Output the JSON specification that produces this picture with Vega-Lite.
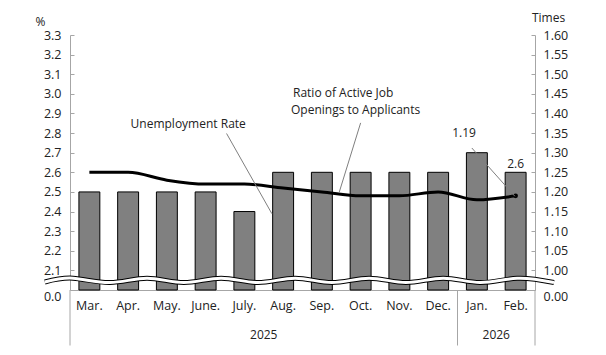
{
  "$schema": "https://vega.github.io/schema/vega-lite/v6.json",
  "width": 465,
  "height": 255,
  "autosize": {"type": "none"},
  "padding": {"left": 70, "top": 35, "right": 71, "bottom": 65},
  "config": {
    "view": {"stroke": null},
    "font": "Open Sans",
    "text": {"font": "Open Sans", "fontSize": 12, "color": "#222"},
    "axis": {"labelFont": "Open Sans", "titleFont": "Open Sans", "grid": false}
  },
  "datasets": {
    "monthly": [
      {"month": "Mar.", "rate": 2.5, "ratio": 1.25},
      {"month": "Apr.", "rate": 2.5, "ratio": 1.25},
      {"month": "May.", "rate": 2.5, "ratio": 1.23},
      {"month": "June.", "rate": 2.5, "ratio": 1.22},
      {"month": "July.", "rate": 2.4, "ratio": 1.22},
      {"month": "Aug.", "rate": 2.6, "ratio": 1.21},
      {"month": "Sep.", "rate": 2.6, "ratio": 1.20},
      {"month": "Oct.", "rate": 2.6, "ratio": 1.19},
      {"month": "Nov.", "rate": 2.6, "ratio": 1.19},
      {"month": "Dec.", "rate": 2.6, "ratio": 1.20},
      {"month": "Jan.", "rate": 2.7, "ratio": 1.18},
      {"month": "Feb.", "rate": 2.6, "ratio": 1.19}
    ],
    "wave": [
      {"x": -0.65, "y": 2.041},
      {"x": 0.08, "y": 2.060},
      {"x": 1.03, "y": 2.038},
      {"x": 1.99, "y": 2.060},
      {"x": 2.94, "y": 2.038},
      {"x": 3.90, "y": 2.060},
      {"x": 4.85, "y": 2.038},
      {"x": 5.81, "y": 2.060},
      {"x": 6.76, "y": 2.038},
      {"x": 7.72, "y": 2.060},
      {"x": 8.67, "y": 2.038},
      {"x": 9.63, "y": 2.060},
      {"x": 10.58, "y": 2.038},
      {"x": 11.54, "y": 2.060},
      {"x": 12.49, "y": 2.038}
    ],
    "notes": [
      {"x": 3.05, "y": 2.844, "text": "Unemployment Rate"},
      {"x": 7.05, "y": 3.002, "text": "Ratio of Active Job"},
      {"x": 7.37, "y": 2.918, "text": "Openings to Applicants"},
      {"x": 10.17, "y": 2.801, "text": "1.19"},
      {"x": 11.5, "y": 2.64, "text": "2.6"},
      {"x": 5.0, "y": 1.773, "text": "2025"},
      {"x": 11.0, "y": 1.773, "text": "2026"}
    ],
    "leaders": [
      {"x1": 4.04, "y1": 2.798, "x2": 5.21, "y2": 2.389},
      {"x1": 7.50, "y1": 2.852, "x2": 6.95, "y2": 2.500},
      {"x1": 10.37, "y1": 2.724, "x2": 11.48, "y2": 2.478}
    ],
    "dividers": [
      {"x": 0, "y1": 2.0, "y2": 1.717},
      {"x": 10, "y1": 2.0, "y2": 1.717},
      {"x": 12, "y1": 2.0, "y2": 1.717}
    ]
  },
  "layer": [
    {
      "data": {"name": "monthly"},
      "mark": {"type": "bar", "fill": "#808080", "stroke": "#000000", "strokeWidth": 1, "width": {"band": 0.54}},
      "encoding": {
        "x": {
          "field": "month", "type": "nominal", "sort": null,
          "scale": {"type": "band", "domain": ["Mar.", "Apr.", "May.", "June.", "July.", "Aug.", "Sep.", "Oct.", "Nov.", "Dec.", "Jan.", "Feb."], "paddingInner": 0, "paddingOuter": 0},
          "axis": {"title": null, "labelAngle": 0, "ticks": false, "domainColor": "#a6a6a6", "labelPadding": 9, "labelFontSize": 12.5, "labelColor": "#222"}
        },
        "y": {
          "field": "rate", "type": "quantitative",
          "scale": {"domain": [2.0, 3.3], "nice": false, "zero": false},
          "axis": {
            "orient": "left",
            "values": [2.0, 2.1, 2.2, 2.3, 2.4, 2.5, 2.6, 2.7, 2.8, 2.9, 3.0, 3.1, 3.2, 3.3],
            "labelExpr": "datum.value < 2.05 ? '0.0' : format(datum.value, '.1f')",
            "labelOffset": {"condition": {"test": "datum.value < 2.05", "value": 6}, "value": 0},
            "title": "%", "titleAngle": 0, "titleX": -30, "titleY": -14, "titleAlign": "center", "titleBaseline": "middle",
            "titleFontWeight": "normal", "titleFontSize": 12, "titleColor": "#222",
            "domainColor": "#a6a6a6", "tickColor": "#a6a6a6", "tickSize": -4,
            "labelPadding": 13, "labelFontSize": 12.5, "labelColor": "#222"
          }
        },
        "y2": {"datum": 2.0}
      }
    },
    {
      "data": {"name": "monthly"},
      "mark": {"type": "line", "color": "#000000", "strokeWidth": 3, "interpolate": "monotone"},
      "encoding": {
        "x": {
          "field": "month", "type": "nominal", "sort": null,
          "scale": {"type": "band", "domain": ["Mar.", "Apr.", "May.", "June.", "July.", "Aug.", "Sep.", "Oct.", "Nov.", "Dec.", "Jan.", "Feb."], "paddingInner": 0, "paddingOuter": 0},
          "axis": null
        },
        "y": {
          "field": "ratio", "type": "quantitative",
          "scale": {"domain": [0.95, 1.6], "nice": false, "zero": false},
          "axis": {
            "orient": "right",
            "values": [0.95, 1.0, 1.05, 1.1, 1.15, 1.2, 1.25, 1.3, 1.35, 1.4, 1.45, 1.5, 1.55, 1.6],
            "labelExpr": "datum.value < 0.97 ? '0.00' : format(datum.value, '.2f')",
            "labelOffset": {"condition": {"test": "datum.value < 0.97", "value": 6}, "value": 0},
            "title": "Times", "titleAngle": 0, "titleX": 13, "titleY": -18, "titleAlign": "center", "titleBaseline": "middle",
            "titleFontWeight": "normal", "titleFontSize": 12, "titleColor": "#222",
            "domainColor": "#a6a6a6", "tickColor": "#a6a6a6", "tickSize": -4,
            "labelPadding": 12, "labelFontSize": 12.5, "labelColor": "#222"
          }
        }
      }
    },
    {
      "data": {"name": "monthly"},
      "transform": [{"filter": "datum.month == 'Feb.'"}],
      "mark": {"type": "point", "filled": true, "color": "#000000", "size": 22, "opacity": 1},
      "encoding": {
        "x": {
          "field": "month", "type": "nominal",
          "scale": {"type": "band", "domain": ["Mar.", "Apr.", "May.", "June.", "July.", "Aug.", "Sep.", "Oct.", "Nov.", "Dec.", "Jan.", "Feb."], "paddingInner": 0, "paddingOuter": 0},
          "axis": null
        },
        "y": {"field": "ratio", "type": "quantitative", "scale": {"domain": [0.95, 1.6], "nice": false, "zero": false}, "axis": null}
      }
    },
    {
      "data": {"name": "wave"},
      "mark": {"type": "line", "color": "#000000", "strokeWidth": 5, "interpolate": "natural"},
      "encoding": {
        "x": {"field": "x", "type": "quantitative", "scale": {"domain": [0, 12], "nice": false, "zero": false}, "axis": null},
        "y": {"field": "y", "type": "quantitative", "scale": {"domain": [2.0, 3.3], "nice": false, "zero": false}, "axis": null}
      }
    },
    {
      "data": {"name": "wave"},
      "mark": {"type": "line", "color": "#ffffff", "strokeWidth": 3, "interpolate": "natural"},
      "encoding": {
        "x": {"field": "x", "type": "quantitative", "scale": {"domain": [0, 12], "nice": false, "zero": false}, "axis": null},
        "y": {"field": "y", "type": "quantitative", "scale": {"domain": [2.0, 3.3], "nice": false, "zero": false}, "axis": null}
      }
    },
    {
      "data": {"name": "leaders"},
      "mark": {"type": "rule", "color": "#7f7f7f", "strokeWidth": 1},
      "encoding": {
        "x": {"field": "x1", "type": "quantitative", "scale": {"domain": [0, 12], "nice": false, "zero": false}, "axis": null},
        "x2": {"field": "x2"},
        "y": {"field": "y1", "type": "quantitative", "scale": {"domain": [2.0, 3.3], "nice": false, "zero": false}, "axis": null},
        "y2": {"field": "y2"}
      }
    },
    {
      "data": {"name": "dividers"},
      "mark": {"type": "rule", "color": "#a6a6a6", "strokeWidth": 1},
      "encoding": {
        "x": {"field": "x", "type": "quantitative", "scale": {"domain": [0, 12], "nice": false, "zero": false}, "axis": null},
        "y": {"field": "y1", "type": "quantitative", "scale": {"domain": [2.0, 3.3], "nice": false, "zero": false}, "axis": null},
        "y2": {"field": "y2"}
      }
    },
    {
      "data": {"name": "notes"},
      "mark": {"type": "text", "fontSize": 12, "color": "#222222", "align": "center", "baseline": "middle"},
      "encoding": {
        "x": {"field": "x", "type": "quantitative", "scale": {"domain": [0, 12], "nice": false, "zero": false}, "axis": null},
        "y": {"field": "y", "type": "quantitative", "scale": {"domain": [2.0, 3.3], "nice": false, "zero": false}, "axis": null},
        "text": {"field": "text"}
      }
    }
  ],
  "resolve": {"scale": {"x": "independent", "y": "independent"}}
}
